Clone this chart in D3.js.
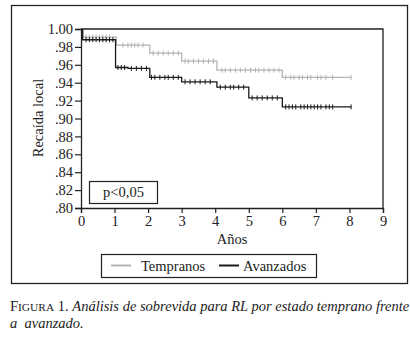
<!DOCTYPE html>
<html>
<head>
<meta charset="utf-8">
<script src="https://d3js.org/d3.v7.min.js"></script>
<style>
  body { margin: 0; background: #fff; }
  text { font-family: "Liberation Serif", "DejaVu Serif", serif; fill: #222; }
</style>
</head>
<body>
<div id="chart"></div>
<script>
// step curves: time where the level starts, and the level
var tempTimes  = [0, 0.05, 1.05, 2.05, 3.0, 4.05, 6.0];
var tempValues = [1.0, 0.991, 0.982, 0.973, 0.964, 0.954, 0.946];
var avanTimes  = [0, 0.05, 1.03, 1.4, 2.05, 3.0, 4.05, 5.0, 6.0];
var avanValues = [1.0, 0.988, 0.957, 0.956, 0.946, 0.941, 0.935, 0.923, 0.913];
var endTime = 8.05;

// censored cases (tick marks)
var tempCensor = [0.15, 0.25, 0.35, 0.45, 0.55, 0.65, 0.75, 0.85, 1.25, 1.4, 1.5, 1.6, 1.7, 1.85,
  2.15, 2.3, 2.45, 2.6, 2.75, 2.9, 3.1, 3.2, 3.35, 3.5, 3.65, 3.8, 3.95,
  4.2, 4.3, 4.45, 4.6, 4.75, 4.9, 5.05, 5.2, 5.3, 5.45, 5.6, 5.75, 5.9,
  6.1, 6.25, 6.35, 6.5, 6.6, 6.75, 6.85, 7.05, 7.15, 7.3, 7.5, 8.05];
var avanCensor = [0.15, 0.25, 0.35, 0.45, 0.55, 0.65, 0.75, 0.85, 0.95, 1.1, 1.2, 1.3, 1.5, 1.65, 1.8, 1.95,
  2.1, 2.2, 2.35, 2.5, 2.6, 2.75, 2.9, 3.1, 3.25, 3.4, 3.55, 3.7, 3.85,
  4.15, 4.3, 4.45, 4.55, 4.7, 4.85, 5.1, 5.25, 5.4, 5.55, 5.7, 5.85,
  6.1, 6.2, 6.3, 6.4, 6.55, 6.65, 6.75, 6.85, 6.95, 7.05, 7.15, 7.3, 7.4, 7.5, 8.05];

var xTicks = [0, 1, 2, 3, 4, 5, 6, 7, 8, 9];
var yTicks = [0.80, 0.82, 0.84, 0.86, 0.88, 0.90, 0.92, 0.94, 0.96, 0.98, 1.00];
var seriesNames = ["Tempranos", "Avanzados"];
var seriesColors = ["#b4b4b4", "#1a1a1a"];

var svg = d3.select("#chart").append("svg")
  .attr("width", 410).attr("height", 339);

// outer frame
svg.append("rect")
  .attr("x", 11.5).attr("y", 5.5).attr("width", 396).attr("height", 278)
  .attr("fill", "none").attr("stroke", "#222").attr("stroke-width", 1.3);

var x = d3.scaleLinear().domain([0, 9]).range([81, 383]);
var y = d3.scaleLinear().domain([0.8, 1.0]).range([208, 29]);

// plot box top and right
svg.append("path")
  .attr("d", "M" + x(0) + "," + y(1) + "H" + x(9) + "V" + y(0.8))
  .attr("fill", "none").attr("stroke", "#222").attr("stroke-width", 1.3);

var yAxis = svg.append("g")
  .attr("transform", "translate(" + x(0) + ",0)")
  .call(d3.axisLeft(y).tickValues(yTicks).tickSize(6).tickPadding(2)
    .tickFormat(function(d) { return d === 1 ? "1.00" : d3.format(".2f")(d).replace("0.", "."); }));
var xAxis = svg.append("g")
  .attr("transform", "translate(0," + y(0.8) + ")")
  .call(d3.axisBottom(x).tickValues(xTicks).tickSize(5).tickPadding(3).tickFormat(d3.format("d")));

[yAxis, xAxis].forEach(function(a) {
  a.select(".domain").attr("stroke", "#222").attr("stroke-width", 1.3);
  a.selectAll(".tick line").attr("stroke", "#222").attr("stroke-width", 1.2);
  a.selectAll("text").attr("font-size", 14.5).attr("font-family", "Liberation Serif").attr("fill", "#222");
});

svg.append("text")
  .attr("transform", "translate(43,118) rotate(-90)")
  .attr("text-anchor", "middle").attr("font-size", 14.5).text("Recaída local");
svg.append("text")
  .attr("x", 232).attr("y", 244)
  .attr("text-anchor", "middle").attr("font-size", 14.5).text("Años");

function stepPoints(times, values) {
  var pts = [];
  times.forEach(function(t, i) { pts.push([t, values[i]]); });
  pts.push([endTime, values[values.length - 1]]);
  return pts;
}
function levelAt(times, values, t) {
  var v = values[0];
  times.forEach(function(tt, i) { if (tt <= t) v = values[i]; });
  return v;
}

var line = d3.line().x(function(d) { return x(d[0]); }).y(function(d) { return y(d[1]); })
  .curve(d3.curveStepAfter);

var series = [
  { times: tempTimes, values: tempValues, censor: tempCensor, color: seriesColors[0] },
  { times: avanTimes, values: avanValues, censor: avanCensor, color: seriesColors[1] }
];

series.forEach(function(s) {
  svg.append("path")
    .datum(stepPoints(s.times, s.values))
    .attr("d", line)
    .attr("fill", "none").attr("stroke", s.color).attr("stroke-width", 1.3);
  svg.append("g").selectAll("line")
    .data(s.censor)
    .enter().append("line")
    .attr("x1", function(d) { return x(d); })
    .attr("x2", function(d) { return x(d); })
    .attr("y1", function(d) { return y(levelAt(s.times, s.values, d)) - 2.5; })
    .attr("y2", function(d) { return y(levelAt(s.times, s.values, d)) + 2.5; })
    .attr("stroke", s.color).attr("stroke-width", 1);
});

// p-value box
svg.append("rect")
  .attr("x", 89.5).attr("y", 181.5).attr("width", 68).attr("height", 22)
  .attr("fill", "#fff").attr("stroke", "#222").attr("stroke-width", 1.2);
svg.append("text")
  .attr("x", 123.5).attr("y", 197)
  .attr("text-anchor", "middle").attr("font-size", 14.5).text("p<0,05");

// legend
svg.append("rect")
  .attr("x", 101.5).attr("y", 254.5).attr("width", 215).attr("height", 23)
  .attr("fill", "#fff").attr("stroke", "#222").attr("stroke-width", 1.2);
var legX = [111, 219];
var legTextX = [141, 243];
seriesNames.forEach(function(n, i) {
  svg.append("line")
    .attr("x1", legX[i]).attr("x2", legX[i] + 20).attr("y1", 265.5).attr("y2", 265.5)
    .attr("stroke", seriesColors[i]).attr("stroke-width", 2);
  svg.append("text")
    .attr("x", legTextX[i]).attr("y", 271).attr("font-size", 14.5).text(n);
});

// caption
var cap = svg.append("text").attr("x", 10).attr("y", 311).attr("font-size", 14.5);
cap.append("tspan").text("F");
cap.append("tspan").attr("font-size", 11.4).text("IGURA");
cap.append("tspan").text(" 1. ");
cap.append("tspan").attr("font-style", "italic")
  .text("Análisis de sobrevida para RL por estado temprano frente");
svg.append("text").attr("x", 10).attr("y", 328).attr("font-size", 14.5)
  .attr("font-style", "italic").attr("xml:space", "preserve").text("a  avanzado.");
</script>
</body>
</html>
